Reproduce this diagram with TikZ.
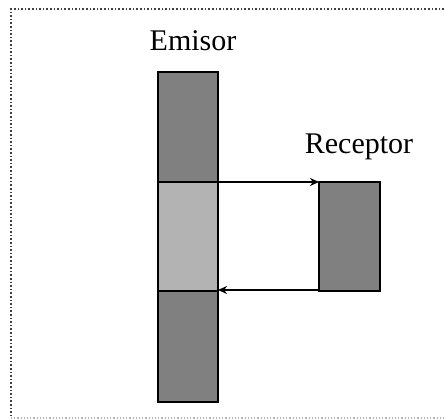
\documentclass[tikz,border=0pt]{standalone}
\usepackage{fontspec}
\setmainfont{Liberation Serif}
\usetikzlibrary{arrows.meta}
\definecolor{darkblock}{HTML}{808080}
\definecolor{lightblock}{HTML}{B3B3B3}
\begin{document}
\begin{tikzpicture}[x=1pt,y=-1pt,
  block/.style={draw=black,line width=1.8pt,fill=darkblock},
  litblock/.style={draw=black,line width=1.8pt,fill=lightblock},
  lbl/.style={font=\fontsize{30}{32}\selectfont,inner sep=0pt},
  link/.style={line width=1.6pt,-{Stealth[length=9pt,width=8pt]}}]
  \useasboundingbox (0,0) rectangle (444,419);
  % dotted frame
  \draw[line width=1.6pt,dotted,black!75] (444,9) -- (11,9) -- (11,418);
  \draw[line width=1.2pt,dotted,black!30] (11,418) -- (444,418);
  % emitter column
  \path[block] (158,72) rectangle (218,182) node[midway] (etop) {};
  \path[litblock] (158,182) rectangle (218,291) node[midway] (emid) {};
  \path[block] (158,291) rectangle (218,402) node[midway] (ebot) {};
  % receiver
  \path[block] (319,182) rectangle (380,291) node[midway] (rec) {};
  \coordinate (eTR) at (218,182);
  \coordinate (eBR) at (218,290);
  \coordinate (rTL) at (319,182);
  \coordinate (rBL) at (319,290);
  \draw[link] (eTR) -- (rTL);
  \draw[link,line width=2.6pt] (rBL) -- (eBR);
  % labels
  \node[lbl] (emisor) at (193,41) {Emisor};
  \node[lbl] (receptor) at (359,147) {Receptor};
\end{tikzpicture}
\end{document}
